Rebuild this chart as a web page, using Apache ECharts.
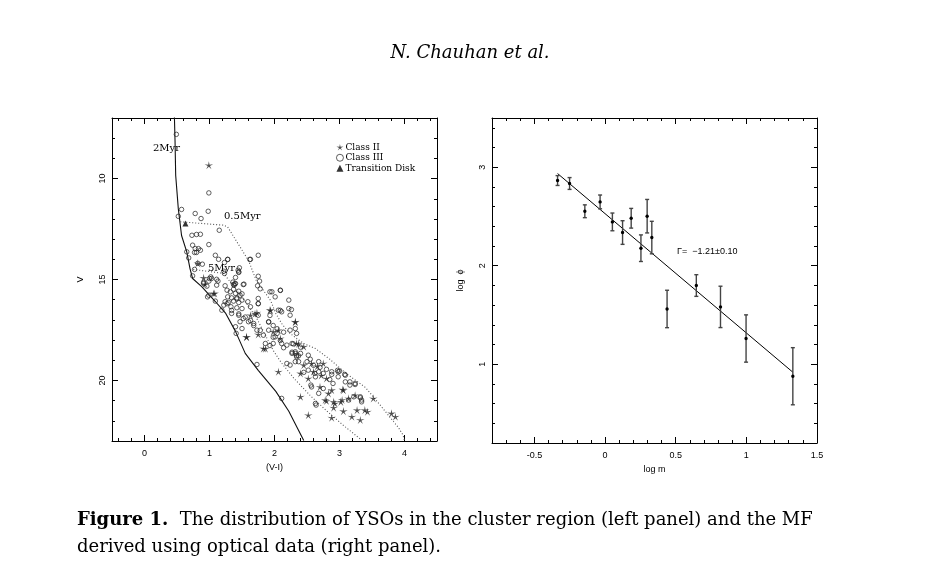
<!DOCTYPE html>
<html><head><meta charset="utf-8">
<script src="https://cdn.jsdelivr.net/npm/echarts@6/dist/echarts.min.js"></script>
<style>html,body{margin:0;padding:0;background:#fff}#c{width:940px;height:572px}</style>
</head><body><div id="c"></div>
<script>
// ---------- Left panel: colour-magnitude diagram ----------
const classII = [[0.99,9.34],[0.91,14.92],[0.82,14.20],[1.08,15.69],[1.63,16.77],[1.73,16.65],[1.57,17.84],[1.75,17.72],[1.93,16.52],[1.98,17.59],[2.06,17.51],[2.09,17.92],[1.83,18.42],[2.32,17.09],[2.34,18.17],[2.45,18.33],[2.45,19.24],[2.57,19.16],[2.75,19.16],[2.40,19.65],[2.60,19.57],[2.52,19.90],[2.80,19.90],[2.70,20.32],[2.88,20.48],[2.83,20.64],[3.06,20.48],[2.06,19.57],[2.40,20.81],[2.78,20.97],[2.91,21.06],[3.04,20.97],[3.14,20.89],[3.24,20.73],[3.52,20.89],[2.80,21.02],[2.91,21.35],[2.93,21.14],[3.02,21.06],[3.05,20.45],[3.27,21.47],[3.39,21.47],[3.43,21.55],[3.06,21.52],[3.19,21.80],[3.32,21.96],[2.88,21.85],[2.52,21.72],[3.80,21.63],[3.86,21.80],[1.94,16.52],[0.93,15.23],[1.06,15.69],[1.70,16.70],[1.57,17.86],[1.86,18.43],[2.32,17.11],[2.37,18.19],[2.66,19.30],[2.72,19.75]];
const classIII = [[0.49,7.81],[0.99,10.71],[0.57,11.53],[0.52,11.87],[0.78,11.73],[0.87,11.98],[0.98,11.62],[1.15,12.56],[0.73,12.81],[0.80,12.77],[0.86,12.76],[0.74,13.30],[0.78,13.47],[0.83,13.47],[0.86,13.55],[0.80,13.66],[0.77,13.66],[0.99,13.27],[0.65,13.63],[0.68,13.93],[1.09,13.80],[1.14,14.00],[1.28,14.00],[1.75,13.80],[1.63,14.00],[0.82,14.20],[0.89,14.24],[0.77,14.50],[1.23,14.16],[1.46,14.42],[1.45,14.62],[1.02,14.87],[1.11,14.99],[0.91,15.15],[0.96,15.33],[1.24,15.31],[1.36,15.13],[1.38,15.28],[1.53,15.23],[1.75,14.84],[1.77,15.08],[1.74,15.31],[0.74,14.82],[1.03,14.95],[1.13,15.08],[1.11,15.28],[1.22,14.59],[1.23,14.70],[1.37,15.25],[1.40,15.20],[1.45,14.65],[1.44,14.54],[0.97,15.86],[0.99,15.78],[1.09,16.07],[1.27,15.53],[1.32,15.61],[1.37,15.48],[1.40,15.69],[1.45,15.58],[1.28,15.86],[1.34,15.91],[1.42,15.91],[1.47,15.78],[1.50,16.02],[1.24,16.10],[1.29,16.14],[1.37,16.07],[1.45,16.14],[1.22,16.27],[1.33,16.35],[1.42,16.40],[1.50,16.44],[1.59,16.10],[1.63,16.35],[1.75,15.94],[1.75,16.19],[1.19,16.52],[1.34,16.68],[1.45,16.77],[1.52,16.93],[1.60,17.09],[1.47,17.09],[1.40,17.34],[1.50,17.43],[1.68,17.18],[1.73,17.51],[1.83,17.76],[1.91,17.09],[2.06,16.52],[2.11,16.60],[2.01,15.86],[1.93,15.61],[2.09,15.53],[2.22,16.02],[1.91,17.51],[2.04,17.67],[2.01,17.84],[1.86,18.17],[1.98,18.17],[2.11,18.17],[2.19,18.25],[2.24,16.77],[2.32,17.43],[2.24,17.51],[2.34,17.67],[2.27,18.17],[2.32,18.66],[2.37,18.78],[2.22,16.44],[2.26,16.49],[1.75,16.77],[2.27,18.66],[2.32,18.58],[2.34,18.83],[2.40,18.66],[2.37,19.07],[2.32,19.07],[2.19,19.16],[2.24,19.24],[2.52,18.75],[2.50,19.07],[2.68,19.07],[2.52,19.49],[2.68,19.57],[2.63,19.82],[2.75,19.65],[2.88,19.57],[2.98,19.57],[2.98,19.82],[3.09,20.07],[3.16,20.23],[3.24,20.15],[2.75,20.40],[2.68,20.64],[2.56,20.23],[2.11,20.89],[3.32,20.81],[3.34,20.97],[2.63,21.14],[2.88,19.70],[3.00,19.54],[3.08,19.70],[3.16,20.07],[3.24,20.20],[2.57,20.32],[3.14,20.97],[3.22,20.81],[3.32,20.86],[3.34,21.06],[1.41,17.67],[1.73,19.21],[2.64,21.22],[2.97,19.50],[3.09,19.74],[0.91,15.20],[0.99,15.08],[1.96,15.61],[1.62,14.01],[1.28,14.01],[1.40,14.90],[1.00,14.95],[1.39,15.21],[1.52,15.25],[1.50,15.71],[1.42,15.96],[1.27,16.20],[1.34,16.53],[1.45,16.70],[1.55,16.86],[1.63,17.03],[1.78,15.46],[1.75,16.20],[2.09,15.54],[1.93,16.78],[2.09,16.53],[1.91,17.11],[1.98,17.28],[2.04,17.44],[2.14,17.61],[1.98,17.86],[2.09,18.02],[2.14,18.38],[2.29,18.19],[2.40,18.35],[2.27,18.60],[2.34,18.76],[1.68,17.28],[1.78,17.52],[1.93,18.27],[2.60,19.25],[2.70,19.35],[2.80,19.45],[2.62,19.65],[2.85,19.95],[2.45,19.60],[2.55,18.95],[2.90,20.15]];
const transitionDisk = [[0.63,12.23]];
const iso2Myr = [[0.46,6.93],[0.47,8.17],[0.48,9.85],[0.52,11.49],[0.57,12.82],[0.65,13.63],[0.70,14.46],[0.74,14.95],[0.88,15.35],[1.09,16.09],[1.25,16.68],[1.40,17.57],[1.55,18.66],[1.75,19.50],[2.02,20.54],[2.22,21.53],[2.45,22.97]];
const iso05Myr = [[0.55,12.14],[1.22,12.31],[1.28,12.40],[1.60,14.06],[1.72,15.05],[1.83,15.54],[1.94,16.04],[2.02,16.68],[2.11,17.18],[2.22,17.62],[2.34,17.92],[2.45,18.17],[2.63,18.42],[2.85,18.95],[3.10,19.65],[3.40,20.35],[3.62,21.20],[3.91,22.35],[3.98,22.72],[4.00,23.00]];
const iso5Myr = [[0.75,14.50],[1.22,14.70],[1.57,16.19],[1.72,16.88],[1.86,17.77],[1.98,18.51],[2.10,19.10],[2.30,19.90],[2.55,20.75],[2.80,21.50],[3.05,22.20],[3.34,22.95]];
const leftXLabels = [0,1,2,3,4];
const leftYLabels = [10,15,20];

// ---------- Right panel: mass function ----------
const logM   = [-0.336,-0.251,-0.143,-0.035,0.052,0.124,0.185,0.254,0.298,0.331,0.439,0.646,0.817,0.998,1.329];
const logPhi = [2.865,2.835,2.553,2.648,2.445,2.337,2.482,2.178,2.503,2.286,1.561,1.799,1.582,1.261,0.878];
const phiErr = [0.05,0.06,0.065,0.07,0.09,0.12,0.10,0.135,0.17,0.165,0.19,0.11,0.21,0.24,0.29];
const fitLogM = [-0.336,1.329];
const fitLogPhi = [2.936,0.919];
const rightXLabels = [-0.5,0,0.5,1,1.5];
const rightYLabels = [1,2,3];

function range(a,b,s){const r=[];for(let v=a;v<=b+1e-9;v+=s)r.push(Math.round(v*1000)/1000);return r;}

const tickFont = {fontFamily:'Liberation Sans',fontSize:9,color:'#000'};
function axis(dim, grid, pos, min, max, inverse, ticks, len, labels, extra){
  const a = {type:'value', gridIndex:grid, position:pos, min:min, max:max, inverse:!!inverse,
    splitLine:{show:false},
    axisLine:{show:!!(extra&&extra.line), onZero:false, lineStyle:{color:'#000',width:1}},
    axisTick:{show:true, inside:true, length:len, customValues:ticks, lineStyle:{color:'#000',width:1}},
    axisLabel:{show:!!labels}
  };
  if(labels){
    a.axisLabel = Object.assign({show:true, customValues:labels, margin: dim==='y'?5:8, rotate: dim==='y'?90:0}, tickFont);
  }
  if(extra&&extra.name){
    Object.assign(a,{name:extra.name,nameLocation:'middle',nameGap:extra.gap,nameRotate:dim==='y'?90:0,
      nameTextStyle:{fontFamily:'Liberation Sans',fontSize:9,color:'#000'}});
  }
  return a;
}

const LXmin=-0.5,LXmax=4.5,LYmin=7,LYmax=23;
const RXmin=-0.8,RXmax=1.5,RYmin=0.2,RYmax=3.5;
const lxMinor=range(-0.4,4.4,0.2), lyMinor=range(8,22,1);
const rxMinor=range(-0.7,1.4,0.1), ryMinor=range(0.4,3.4,0.2);

const xAxes = [
  axis('x',0,'bottom',LXmin,LXmax,false,lxMinor,3,leftXLabels,{line:true,name:'(V-I)',gap:20}),
  axis('x',0,'bottom',LXmin,LXmax,false,leftXLabels,6,null),
  axis('x',0,'top',LXmin,LXmax,false,lxMinor,3,null,{line:true}),
  axis('x',0,'top',LXmin,LXmax,false,leftXLabels,6,null),
  axis('x',1,'bottom',RXmin,RXmax,false,rxMinor,3,rightXLabels,{line:true,name:'log m',gap:19}),
  axis('x',1,'bottom',RXmin,RXmax,false,rightXLabels,6,null),
  axis('x',1,'top',RXmin,RXmax,false,rxMinor,3,null,{line:true}),
  axis('x',1,'top',RXmin,RXmax,false,rightXLabels,6,null)
];
const yAxes = [
  axis('y',0,'left',LYmin,LYmax,true,lyMinor,3,leftYLabels,{line:true,name:'V',gap:27}),
  axis('y',0,'left',LYmin,LYmax,true,leftYLabels,6,null),
  axis('y',0,'right',LYmin,LYmax,true,lyMinor,3,null,{line:true}),
  axis('y',0,'right',LYmin,LYmax,true,leftYLabels,6,null),
  axis('y',1,'left',RYmin,RYmax,false,ryMinor,3,rightYLabels,{line:true,name:'log  \u03d5',gap:27}),
  axis('y',1,'left',RYmin,RYmax,false,rightYLabels,6,null),
  axis('y',1,'right',RYmin,RYmax,false,ryMinor,3,null,{line:true}),
  axis('y',1,'right',RYmin,RYmax,false,rightYLabels,6,null)
];

const starPath = 'path://M0,-10L1.5,-2.1L9.51,-3.09L2.4,0.8L5.88,8.09L0,2.6L-5.88,8.09L-2.4,0.8L-9.51,-3.09L-1.5,-2.1Z';

const option = {
  animation:false,
  backgroundColor:'#fff',
  grid:[
    {left:112, top:118, width:325, height:323, outerBoundsMode:'none'},
    {left:492, top:118, width:325, height:325, outerBoundsMode:'none'}
  ],
  xAxis:xAxes, yAxis:yAxes,
  legend:{
    data:[{name:'Class II'},{name:'Class III',itemStyle:{borderWidth:0.9,borderColor:'#222'}},{name:'Transition Disk'}],
    orient:'vertical', left:336, top:142, itemWidth:7, itemHeight:7, itemGap:0,
    textStyle:{fontFamily:'DejaVu Serif',fontSize:9,color:'#000',lineHeight:10.5,padding:[0,0,0,-3]}, padding:0, selectedMode:false
  },
  series:[
    {name:'2Myr', type:'line', xAxisIndex:0, yAxisIndex:0, data:iso2Myr, showSymbol:false, symbol:'none',
      lineStyle:{color:'#111',width:1.1}, silent:true, z:1},
    {name:'0.5Myr', type:'line', xAxisIndex:0, yAxisIndex:0, data:iso05Myr, symbol:'none',
      lineStyle:{color:'#555',width:1.1,type:[1,2]}, silent:true, z:1},
    {name:'5Myr', type:'line', xAxisIndex:0, yAxisIndex:0, data:iso5Myr, symbol:'none',
      lineStyle:{color:'#555',width:1.1,type:[1,2]}, silent:true, z:1},
    {name:'Class III', type:'scatter', xAxisIndex:0, yAxisIndex:0, data:classIII, symbol:'circle', symbolSize:4.5,
      itemStyle:{color:'rgba(255,255,255,0)',borderColor:'#222',borderWidth:0.9}, z:2},
    {name:'Class II', type:'scatter', xAxisIndex:0, yAxisIndex:0, data:classII, symbol:starPath, symbolKeepAspect:true, symbolSize:8.5,
      itemStyle:{color:'#222'}, z:3},
    {name:'Transition Disk', type:'scatter', xAxisIndex:0, yAxisIndex:0, data:transitionDisk, symbol:'triangle', symbolSize:6,
      itemStyle:{color:'#000'}, z:3},
    {name:'fit', type:'line', xAxisIndex:4, yAxisIndex:4, data:fitLogM.map((m,i)=>[m,fitLogPhi[i]]), symbol:'none',
      lineStyle:{color:'#000',width:1}, z:1},
    {name:'MF', type:'custom', xAxisIndex:4, yAxisIndex:4, data:logM.map((m,i)=>[m,logPhi[i],phiErr[i]]),
      renderItem:function(params, api){
        const x=api.value(0), y=api.value(1), e=api.value(2);
        const t=api.coord([x,y+e]), b=api.coord([x,y-e]), c=api.coord([x,y]);
        const st={stroke:'#444',lineWidth:1.4};
        return {type:'group',children:[
          {type:'line',shape:{x1:t[0],y1:t[1],x2:b[0],y2:b[1]},style:st},
          {type:'line',shape:{x1:t[0]-2,y1:t[1],x2:t[0]+2,y2:t[1]},style:st},
          {type:'line',shape:{x1:b[0]-2,y1:b[1],x2:b[0]+2,y2:b[1]},style:st},
          {type:'circle',shape:{cx:c[0],cy:c[1],r:1.7},style:{fill:'#000'}}
        ]};
      }, z:2}
  ],
  graphic:[
    {type:'text', left:'center', top:44, style:{text:'N. Chauhan et al.', font:'italic 18px "DejaVu Serif"', fill:'#000'}},
    {type:'text', x:153, y:148, style:{text:'2Myr', font:'10px "DejaVu Serif"', fill:'#000', verticalAlign:'middle'}},
    {type:'text', x:224, y:216, style:{text:'0.5Myr', font:'10px "DejaVu Serif"', fill:'#000', verticalAlign:'middle'}},
    {type:'text', x:208, y:268, style:{text:'5Myr', font:'10px "DejaVu Serif"', fill:'#000', verticalAlign:'middle'}},
    {type:'text', x:677, y:252, style:{text:'\u0393=  \u22121.21\u00b10.10', font:'9px "Liberation Sans"', fill:'#000', verticalAlign:'middle'}},
    {type:'text', x:77, y:520, style:{text:'{b|Figure 1.}  The distribution of YSOs in the cluster region (left panel) and the MF',
      font:'18px "DejaVu Serif"', fill:'#000', verticalAlign:'middle',
      rich:{b:{fontFamily:'DejaVu Serif',fontWeight:'bold',fontSize:18}}}},
    {type:'text', x:77, y:547, style:{text:'derived using optical data (right panel).', font:'18px "DejaVu Serif"', fill:'#000', verticalAlign:'middle'}}
  ]
};
const chart = echarts.init(document.getElementById('c'));
chart.setOption(option);
</script></body></html>
